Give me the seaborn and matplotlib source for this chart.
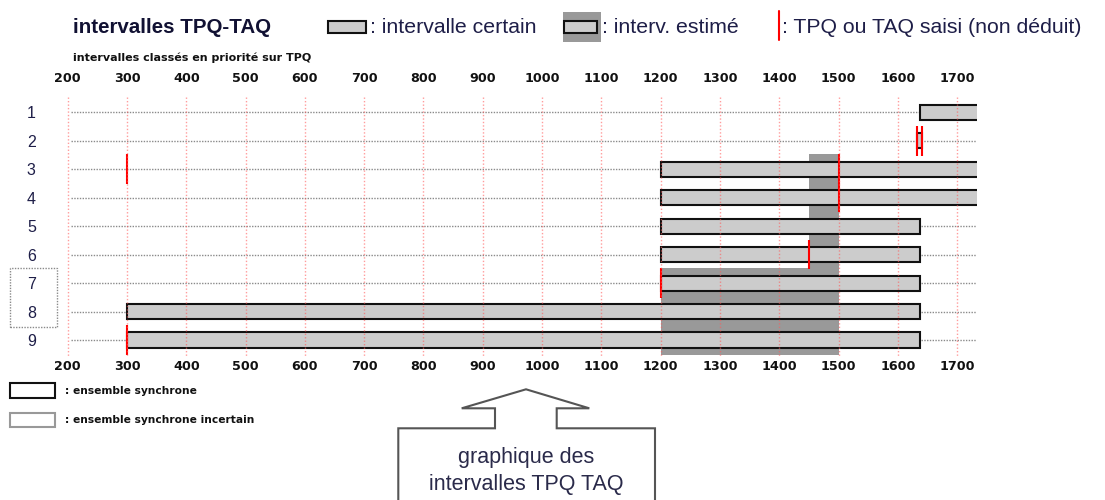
import numpy as np
import matplotlib
matplotlib.use('Agg')
import matplotlib.pyplot as plt
from matplotlib.patches import Rectangle, Polygon
from matplotlib.lines import Line2D
from matplotlib.transforms import ScaledTranslation
import seaborn as sns

# rows, ordered on TPQ
rows = [1, 2, 3, 4, 5, 6, 7, 8, 9]
row_labels = ['1', '2', '3', '4', '5', '6', '7', '8', '9']
# certain interval (TPQ -> TAQ); rows 1, 3, 4 run past the right edge
certain_start = [1637, 1633, 1200, 1200, 1200, 1200, 1200, 300, 300]
certain_end = [1800, 1640, 1800, 1800, 1637, 1637, 1637, 1637, 1637]
# estimated interval (dark band)
est_start = [np.nan, np.nan, 1450, 1450, 1450, 1450, 1200, 1200, 1200]
est_end = [np.nan, np.nan, 1500, 1500, 1500, 1500, 1500, 1500, 1500]
# TPQ / TAQ entered (not deduced)
mark_rows = [2, 2, 3, 3, 4, 6, 7, 9]
mark_years = [1633, 1640, 300, 1500, 1500, 1450, 1200, 300]
year_ticks = [200, 300, 400, 500, 600, 700, 800, 900, 1000,
              1100, 1200, 1300, 1400, 1500, 1600, 1700]

W, H = 1105, 500
TXT = '#1e1e48'

sns.set_theme(style='white')
plt.rcParams['font.family'] = ['Liberation Sans', 'DejaVu Sans']


def px(x, y):
    return (x / W, 1 - y / H)


def fig_rect(fig, x0, y0, x1, y1, **kw):
    r = Rectangle(px(x0, y1), (x1 - x0) / W, (y1 - y0) / H,
                  transform=fig.transFigure, **kw)
    fig.add_artist(r)
    return r


fig = plt.figure(figsize=(W / 100, H / 100), dpi=100)
# axes placed in pixels: x 200 -> 67.7px, 1734 -> 977.3px
ax = fig.add_axes([67.7 / W, 1 - 355.7 / H, 909.6 / W, 259.1 / H])
ax.set_xlim(200, 1734)
ax.set_ylim(9.55, 0.45)
sns.despine(ax=ax, left=True, bottom=True)

# dotted row guides
ax.hlines(rows, 205, 1734, colors='#8a8a8a', linestyles=(0, (1, 1)), lw=1, zorder=1)

# estimated intervals
est_s = np.array(est_start)
est_e = np.array(est_end)
ok = ~np.isnan(est_s)
ax.barh(np.array(rows)[ok], est_e[ok] - est_s[ok], left=est_s[ok], height=1.05,
        color='#999999', lw=0, zorder=2)

# certain intervals
ax.barh(rows, np.array(certain_end) - np.array(certain_start), left=certain_start,
        height=0.53, color='#cccccc', edgecolor='#111111', lw=1.5, zorder=3)

# red marks
ax.vlines(mark_years, np.array(mark_rows) - 0.52, np.array(mark_rows) + 0.52,
          colors='red', lw=1.5, zorder=4)

# red dotted year grid, drawn over the bars
ax.vlines(year_ticks, 0.45, 9.55, colors='#ff5a5a', linestyles=(0, (1, 1.5)),
          lw=1, alpha=0.6, zorder=5, clip_on=False)

ax.set_xticks(year_ticks)
ax.set_xticklabels([str(t) for t in year_ticks], fontfamily='DejaVu Sans',
                   fontweight='bold', fontsize=9.2, color='#111111')
ax.tick_params(axis='x', length=0, top=False, bottom=False,
               labeltop=True, labelbottom=True, pad=3)
# push the top labels further up
for t in ax.xaxis.get_major_ticks():
    t.label2.set_transform(t.label2.get_transform()
                           + ScaledTranslation(0, 5.5 / 72, fig.dpi_scale_trans))

ax.set_yticks(rows)
ax.set_yticklabels(row_labels, fontsize=11.5, color=TXT)
ax.tick_params(axis='y', length=0, pad=23)
ax.grid(False)

# dotted box around rows 7-8 labels
fig_rect(fig, 10, 268.3, 57.3, 326.7, fill=False, edgecolor='#8a8a8a',
         lw=1, linestyle=(0, (1, 1)))

# header
fig.text(*px(72.7, 33.3), 'intervalles TPQ-TAQ', fontsize=14.8, fontweight='bold',
         color='#111133', va='baseline')
fig_rect(fig, 328, 20.7, 366, 33.3, facecolor='#cccccc', edgecolor='#111111', lw=1.5)
fig.text(*px(370, 33.3), ': intervalle certain', fontsize=15.3, color=TXT, va='baseline')
fig_rect(fig, 562.7, 11.7, 600.7, 41.7, facecolor='#999999', edgecolor='none')
fig_rect(fig, 564, 20.7, 597, 33.3, facecolor='#cccccc', edgecolor='#111111', lw=1.5)
fig.text(*px(601.7, 33.3), ': interv. estimé', fontsize=15.3, color=TXT, va='baseline')
fig.add_artist(Line2D([779.3 / W] * 2, [1 - 10.7 / H, 1 - 40 / H], color='red', lw=1.5,
                      transform=fig.transFigure))
fig.text(*px(781.7, 33.3), ': TPQ ou TAQ saisi (non déduit)', fontsize=15.3, color=TXT,
         va='baseline')
fig.text(*px(72.7, 58), 'intervalles classés en priorité sur TPQ', fontsize=8,
         fontfamily='DejaVu Sans', fontweight='bold', color='#111111', va='center')

# lower legend
fig_rect(fig, 10, 383.3, 55, 397.7, facecolor='white', edgecolor='#111111', lw=1.5)
fig.text(*px(65, 390.7), ': ensemble synchrone', fontsize=7.7, fontfamily='DejaVu Sans',
         fontweight='bold', color='#111111', va='center')
fig_rect(fig, 10, 413.3, 55, 427.3, facecolor='white', edgecolor='#999999', lw=1.5)
fig.text(*px(65, 420), ': ensemble synchrone incertain', fontsize=7.7,
         fontfamily='DejaVu Sans', fontweight='bold', color='#111111', va='center')

# callout box
pts = [(398.3, 515), (398.3, 428.3), (495, 428.3), (495, 408.3), (461.7, 408.3),
       (526, 389.3), (589.3, 408.3), (556.7, 408.3), (556.7, 428.3), (655, 428.3),
       (655, 515)]
fig.add_artist(Polygon([px(x, y) for x, y in pts], closed=False, fill=False,
                       edgecolor='#555555', lw=1.5, transform=fig.transFigure))
fig.text(*px(526, 463.3), 'graphique des', fontsize=15.5, color='#2a2a4a',
         ha='center', va='baseline')
fig.text(*px(526, 490), 'intervalles TPQ TAQ', fontsize=15.5, color='#2a2a4a',
         ha='center', va='baseline')

fig.savefig('out.png', dpi=100)
